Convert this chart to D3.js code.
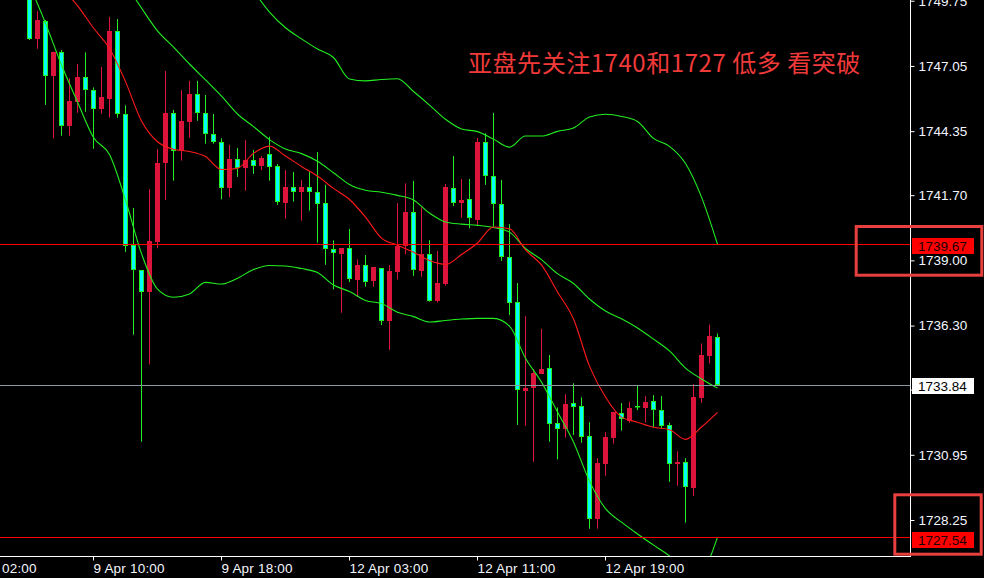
<!DOCTYPE html>
<html><head><meta charset="utf-8">
<script src="https://cdn.jsdelivr.net/npm/d3@7"></script>
<style>html,body{margin:0;padding:0;background:#000;overflow:hidden}</style>
</head><body>
<svg id="c" width="984" height="578"></svg>
<script>
// ---- data (30-minute XAUUSD candles, 9 Apr 06:00 onward) ----
const openP = [1749.99,1748.15,1748.92,1746.62,1747.61,1744.55,1745.57,1746.59,1746.04,1745.28,
1745.69,1748.50,1745.05,1739.64,1738.60,1737.70,1739.77,1743.02,1745.09,1743.53,
1744.74,1745.88,1745.09,1744.22,1743.89,1741.98,1743.20,1742.84,1743.15,1742.91,
1743.40,1742.91,1741.39,1742.02,1741.82,1742.02,1741.82,1741.36,1739.46,1739.27,
1739.50,1738.19,1738.81,1738.14,1738.67,1736.50,1738.53,1739.61,1741.00,1738.57,
1739.26,1737.32,1738.02,1741.98,1741.39,1741.53,1740.68,1743.90,1742.48,1741.32,
1739.14,1737.27,1733.60,1733.73,1734.31,1734.54,1732.25,1732.00,1733.08,1732.96,
1731.73,1728.30,1730.58,1731.66,1732.68,1732.36,1732.95,1732.90,1733.18,1732.80,
1732.17,1730.58,1730.64,1729.58,1733.31,1735.06,1735.84];
const highP = [1750.40,1749.32,1748.95,1747.64,1747.71,1746.54,1747.13,1747.61,1746.16,1747.01,
1749.08,1748.99,1745.42,1741.17,1738.60,1741.95,1743.61,1746.84,1745.23,1746.05,
1746.43,1746.43,1745.85,1745.06,1744.05,1743.78,1743.65,1743.98,1743.57,1743.32,
1744.12,1742.99,1742.74,1742.66,1742.33,1742.67,1743.49,1742.13,1739.83,1739.50,
1740.30,1739.04,1739.22,1738.72,1738.68,1738.81,1741.37,1742.19,1742.29,1741.20,
1739.84,1739.39,1742.16,1743.32,1742.37,1742.37,1744.07,1744.26,1745.10,1742.33,
1740.50,1738.06,1736.69,1734.50,1736.16,1735.08,1732.91,1733.46,1733.91,1733.33,
1732.30,1730.81,1731.89,1732.73,1733.09,1733.15,1733.81,1733.38,1733.42,1733.38,
1732.28,1731.10,1730.81,1733.88,1735.56,1736.34,1735.97];
const lowP = [1748.12,1747.76,1745.44,1744.05,1744.16,1744.16,1745.11,1745.15,1743.62,1745.07,
1744.91,1744.91,1739.35,1735.92,1731.49,1734.69,1739.50,1741.50,1742.30,1743.13,
1744.08,1744.78,1743.83,1743.83,1741.53,1741.61,1742.46,1741.88,1742.58,1742.74,
1742.30,1741.30,1740.72,1741.43,1740.64,1741.06,1739.73,1738.82,1737.80,1736.83,
1738.10,1737.49,1737.91,1737.91,1736.32,1735.29,1738.21,1739.25,1738.36,1738.32,
1737.29,1737.26,1737.95,1741.25,1740.77,1740.33,1740.46,1742.13,1740.39,1738.98,
1736.74,1732.19,1732.15,1730.66,1734.29,1731.49,1730.76,1731.66,1731.77,1731.45,
1727.89,1727.89,1730.08,1731.41,1731.95,1732.28,1732.80,1732.28,1732.09,1732.03,
1729.83,1729.67,1728.14,1729.25,1733.10,1734.73,1733.84];
const closeP = [1748.16,1748.95,1746.62,1747.64,1744.55,1745.60,1746.59,1746.04,1745.25,1745.75,
1748.50,1745.05,1739.59,1738.60,1737.70,1739.80,1743.04,1745.10,1743.53,1744.77,
1745.89,1745.09,1744.22,1743.89,1741.98,1743.20,1742.84,1743.15,1742.92,1743.24,
1742.88,1741.43,1742.02,1741.82,1742.02,1741.82,1741.32,1739.46,1739.29,1739.50,
1738.24,1738.82,1738.12,1738.72,1736.50,1738.56,1739.61,1741.01,1738.61,1739.26,
1737.32,1738.06,1742.02,1741.39,1741.50,1740.74,1743.90,1742.48,1741.32,1739.13,
1737.22,1733.62,1733.73,1734.35,1734.50,1732.21,1732.00,1733.05,1732.91,1731.70,
1728.30,1730.60,1731.68,1732.73,1732.42,1732.89,1732.93,1733.13,1732.79,1732.15,
1730.58,1730.65,1729.60,1733.34,1735.08,1735.88,1733.84];

// indicator lines, read at every second candle
const lineIdx = [0,2,4,6,8,10,12,14,16,18,20,22,24,26,28,30,32,34,36,38,40,42,
44,46,48,50,52,54,56,58,60,62,64,66,68,70,72,74,76,78,80,82,84,86];
const midBand = [1751.64,1751.02,1750.28,1749.55,1748.62,1747.77,1746.40,1744.77,1743.91,1743.60,
1743.51,1743.30,1742.76,1742.81,1743.43,1743.73,1743.32,1742.89,1742.49,1741.98,
1741.52,1740.79,1739.92,1739.63,1739.34,1738.99,1738.83,1739.24,1739.72,1740.38,
1740.31,1739.43,1738.81,1737.69,1736.57,1734.62,1733.34,1732.51,1732.30,1732.09,
1731.99,1731.59,1732.10,1732.71];
const slowMA = [1755.58,1754.75,1753.92,1753.09,1752.26,1751.35,1750.44,1749.45,1748.50,1747.83,
1747.13,1746.47,1745.80,1745.06,1744.54,1744.00,1743.61,1743.42,1743.10,1742.63,
1742.14,1741.90,1741.82,1741.69,1741.50,1740.96,1740.59,1740.50,1740.45,1740.36,
1740.17,1739.49,1739.03,1738.45,1738.04,1737.40,1736.90,1736.58,1736.20,1735.74,
1735.25,1734.54,1734.09,1733.71];
const upperBand = [1762.00,1761.17,1760.34,1759.51,1758.68,1757.85,1757.03,1756.20,1755.37,1754.54,
1753.71,1752.89,1752.06,1751.02,1750.15,1749.28,1748.63,1748.17,1747.75,1747.40,
1746.51,1746.43,1746.49,1746.52,1745.99,1745.43,1744.84,1744.44,1744.33,1744.02,
1743.69,1744.15,1744.15,1744.34,1744.48,1744.94,1745.05,1744.96,1744.75,1744.05,
1743.72,1743.01,1741.62,1739.67];
const lowerBand = [1750.40,1748.82,1747.09,1745.56,1744.09,1743.38,1741.50,1739.28,1737.81,1737.47,
1737.61,1738.09,1738.02,1738.26,1738.62,1738.79,1738.77,1738.66,1738.50,1737.98,
1737.71,1737.34,1737.21,1736.85,1736.67,1736.45,1736.51,1736.57,1736.60,1736.60,
1736.28,1734.95,1733.96,1732.72,1731.48,1729.86,1728.72,1728.16,1727.67,1727.21,
1726.76,1726.09,1726.18,1727.54];

const priceTicks = [1749.75,1747.05,1744.35,1741.70,1739.00,1736.30,1733.65,1730.95,1728.25];
const timeTickIdx = [-8,8,24,40,56,72];
const timeTickLabels = ["9 Apr 02:00","9 Apr 10:00","9 Apr 18:00","12 Apr 03:00","12 Apr 11:00","12 Apr 19:00"];
const levelLines = [1739.67,1727.54];
const currentPrice = 1733.84;
const noteText = "亚盘先关注1740和1727 低多 看突破";

// ---- drawing ----
const W=984, H=578, plotR=910, plotB=556;
const svg = d3.select('#c');
svg.append('rect').attr('width',W).attr('height',H).attr('fill','#000');

const x = d3.scaleLinear().domain([0,86]).range([29,717]);
const y = d3.scaleLinear().domain([1726.76,1749.78]).range([plotB,0]);

svg.append('defs').append('clipPath').attr('id','pc')
  .append('rect').attr('x',0).attr('y',0).attr('width',plotR).attr('height',plotB);
const plot = svg.append('g').attr('clip-path','url(#pc)');

const GREEN = '#22ee22', CYAN = '#00ffff', RED = '#dc143c';

// candles
const candles = openP.map((o,i)=>({i,o,h:highP[i],l:lowP[i],c:closeP[i]}));
const cg = plot.append('g');
candles.forEach(d=>{
  const cx = Math.round(x(d.i));
  const up = d.c >= d.o;
  const col = up ? RED : GREEN;
  cg.append('line').attr('x1',cx+0.5).attr('x2',cx+0.5)
    .attr('y1',y(d.h)).attr('y2',y(d.l)).attr('stroke',col).attr('stroke-width',1);
  const top = Math.round(y(Math.max(d.o,d.c)));
  const bot = Math.round(y(Math.min(d.o,d.c)));
  if (up) {
    cg.append('rect').attr('x',cx-2).attr('y',top).attr('width',5)
      .attr('height',Math.max(bot-top,1)).attr('fill',RED);
  } else {
    cg.append('rect').attr('x',cx-1.5).attr('y',top+0.5).attr('width',4)
      .attr('height',Math.max(bot-top-1,0.5)).attr('fill',CYAN)
      .attr('stroke',GREEN).attr('stroke-width',1);
  }
});

// indicator lines
function drawLine(vals,color){
  const pts = lineIdx.map((k,j)=>[k,vals[j]]);
  plot.append('path').datum(pts)
    .attr('d', d3.line().x(p=>x(p[0])+0.5).y(p=>y(p[1])).curve(d3.curveMonotoneX))
    .attr('fill','none').attr('stroke',color).attr('stroke-width',1.1);
}
drawLine(upperBand,GREEN);
drawLine(lowerBand,GREEN);
drawLine(slowMA,GREEN);
drawLine(midBand,'#ff1a1a');

// horizontal level lines
levelLines.forEach(v=>{
  svg.append('line').attr('x1',0).attr('x2',plotR).attr('y1',Math.round(y(v))+0.5).attr('y2',Math.round(y(v))+0.5)
    .attr('stroke','#ff0000').attr('stroke-width',1);
});
svg.append('line').attr('x1',0).attr('x2',plotR).attr('y1',Math.round(y(currentPrice))+0.5).attr('y2',Math.round(y(currentPrice))+0.5)
  .attr('stroke','#8c96a2').attr('stroke-width',1);

// axes frame
svg.append('line').attr('x1',plotR+0.5).attr('x2',plotR+0.5).attr('y1',0).attr('y2',plotB+1).attr('stroke','#fff');
svg.append('line').attr('x1',0).attr('x2',plotR+1).attr('y1',plotB+0.5).attr('y2',plotB+0.5).attr('stroke','#fff');

const FONT = '"Liberation Sans", Arial, sans-serif';
const ay = svg.append('g').attr('transform',`translate(${plotR+0.5},0)`)
  .call(d3.axisRight(y).tickValues(priceTicks).tickSize(4).tickPadding(4).tickFormat(d=>d.toFixed(2)));
ay.select('.domain').remove();
ay.selectAll('line').attr('stroke','#fff');
ay.selectAll('text').attr('fill','#f4f6ff').style('font-family',FONT).style('font-size','13.5px');

const ax = svg.append('g').attr('transform',`translate(0,${plotB+0.5})`)
  .call(d3.axisBottom(x).tickValues(timeTickIdx).tickSize(4).tickFormat((d,i)=>timeTickLabels[i]));
ax.select('.domain').remove();
ax.selectAll('line').attr('stroke','#fff');
ax.selectAll('text').attr('fill','#f4f6ff').attr('text-anchor','start').attr('x',0).attr('y',7)
  .style('font-family',FONT).style('font-size','13.5px').style('letter-spacing','0.2px');

// price labels on axis
function priceTag(v,bg,fg,dy){
  const yy = Math.round(y(v))+dy;
  svg.append('rect').attr('x',912).attr('y',yy-8).attr('width',62).attr('height',16).attr('fill',bg);
  svg.append('text').attr('x',918).attr('y',yy).attr('dy','0.36em').text(v.toFixed(2))
    .attr('fill',fg).style('font-family',FONT).style('font-size','13.5px');
}
priceTag(levelLines[0],'#ff0000','#1a0000',2);
priceTag(levelLines[1],'#ff0000','#1a0000',3);
priceTag(currentPrice,'#ffffff','#000000',1);

// annotation boxes
svg.append('rect').attr('x',856.2).attr('y',226.5).attr('width',125.6).attr('height',48.7)
  .attr('fill','none').attr('stroke','#e8403e').attr('stroke-width',3);
svg.append('rect').attr('x',894.8).attr('y',494.8).attr('width',86.4).attr('height',59.4)
  .attr('fill','none').attr('stroke','#e8403e').attr('stroke-width',3);

// annotation text
svg.append('text').attr('x',468).attr('y',71.5).text(noteText)
  .attr('fill','#f03a3a').style('font-family','"Noto Sans CJK SC", sans-serif').style('font-size','24px')
  .style('letter-spacing','0.55px');
</script>
</body></html>
